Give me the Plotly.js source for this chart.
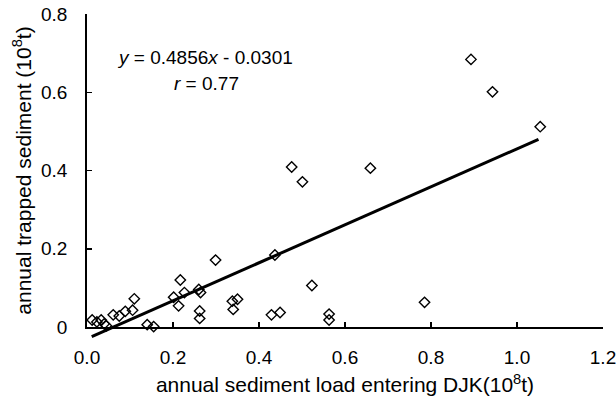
<!DOCTYPE html>
<html>
<head>
<meta charset="utf-8">
<script src="https://cdn.plot.ly/plotly-3.0.1.min.js"></script>
<style>html,body{margin:0;padding:0;background:#fff;}#chart{width:616px;height:407px;}</style>
</head>
<body>
<div id="chart"></div>
<script>
const loadX = [0.012,0.023,0.033,0.040,0.045,0.061,0.075,0.089,0.106,0.110,0.140,0.155,0.2015,0.213,0.217,0.2265,0.260,0.264,0.262,0.262,0.299,0.338,0.340,0.350,0.429,0.437,0.449,0.476,0.501,0.523,0.563,0.563,0.659,0.785,0.893,0.943,1.054];
const trappedY = [0.018,0.013,0.018,0.008,0.003,0.031,0.028,0.040,0.043,0.072,0.006,0.001,0.076,0.054,0.120,0.088,0.096,0.088,0.041,0.022,0.171,0.066,0.045,0.071,0.031,0.184,0.037,0.409,0.371,0.106,0.033,0.018,0.406,0.063,0.684,0.601,0.512];
const fitSlope = 0.4856;
const fitIntercept = -0.0301;
const fitX = [0.011, 1.05];
const fitY = fitX.map(v => fitSlope * v + fitIntercept);
const xTickVals = [0, 0.2, 0.4, 0.6, 0.8, 1.0, 1.2];
const xTickText = ["0.0","0.2","0.4","0.6","0.8","1.0","1.2"];
const yTickVals = [0, 0.2, 0.4, 0.6, 0.8];
const yTickText = ["0","0.2","0.4","0.6","0.8"];

const FONT = "Liberation Sans, Arial, Helvetica, sans-serif";
const W = 616, H = 407;
const mL = 87, mR = 13, mT = 14, mB = 60;
const plotH = H - mT - mB;           // 333
const axisPx = 327;                  // pixel row of y=0
const yBottomFrac = (H - mB - axisPx) / plotH;
const mainSpan = plotH * (1 - yBottomFrac);
const ext = 0.8 * (H - mB - axisPx) / mainSpan;

const traces = [
  {
    x: loadX, y: trappedY, type: 'scatter', mode: 'markers',
    xaxis: 'x', yaxis: 'y',
    marker: {symbol: 'diamond-open', size: 8, color: '#000', line: {width: 1.4, color: '#000'}},
    cliponaxis: false, hoverinfo: 'skip'
  },
  {
    x: fitX, y: fitY, type: 'scatter', mode: 'lines',
    xaxis: 'x2', yaxis: 'y2',
    line: {color: '#000', width: 3}, hoverinfo: 'skip'
  }
];

const layout = {
  width: W, height: H,
  margin: {l: mL, r: mR, t: mT, b: mB},
  paper_bgcolor: '#fff', plot_bgcolor: 'rgba(0,0,0,0)',
  showlegend: false,
  font: {family: FONT, size: 19, color: '#000'},
  xaxis: {
    domain: [0, 1], range: [0, 1.2], anchor: 'y',
    tickvals: xTickVals, ticktext: xTickText,
    ticks: 'inside', ticklen: 5, tickwidth: 1.5, tickcolor: '#000',
    showline: true, linecolor: '#000', linewidth: 1.8,
    showgrid: false, zeroline: false,
    ticklabelstandoff: 12, ticklabeloverflow: 'allow',
    tickfont: {family: FONT, size: 19, color: '#000'},
    title: {text: 'annual sediment load entering DJK(10<sup>8</sup>t)', font: {family: FONT, size: 21, color: '#000'}, standoff: 11}
  },
  yaxis: {
    domain: [yBottomFrac, 1], range: [0, 0.8], anchor: 'x',
    tickvals: yTickVals, ticktext: yTickText,
    ticks: 'inside', ticklen: 5, tickwidth: 1.5, tickcolor: '#000',
    showline: true, linecolor: '#000', linewidth: 1.8,
    showgrid: false, zeroline: false,
    ticklabelstandoff: 14, ticklabeloverflow: 'allow',
    tickfont: {family: FONT, size: 19, color: '#000'},
    title: {text: 'annual trapped sediment (10<sup>8</sup>t)', font: {family: FONT, size: 21, color: '#000'}, standoff: 4}
  },
  xaxis2: {domain: [0, 1], range: [0, 1.2], anchor: 'y2', visible: false},
  yaxis2: {domain: [0, 1], range: [-ext, 0.8], anchor: 'x2', visible: false},
  annotations: [
    {xref: 'paper', yref: 'paper', x: 0.229, y: 0.868, xanchor: 'center', yanchor: 'middle', showarrow: false,
     text: '<i>y</i> = 0.4856<i>x</i> - 0.0301', font: {family: FONT, size: 19, color: '#000'}},
    {xref: 'paper', yref: 'paper', x: 0.232, y: 0.79, xanchor: 'center', yanchor: 'middle', showarrow: false,
     text: '<i>r</i> = 0.77', font: {family: FONT, size: 19, color: '#000'}}
  ]
};

Plotly.newPlot('chart', traces, layout, {staticPlot: true, displayModeBar: false});
</script>
</body>
</html>
